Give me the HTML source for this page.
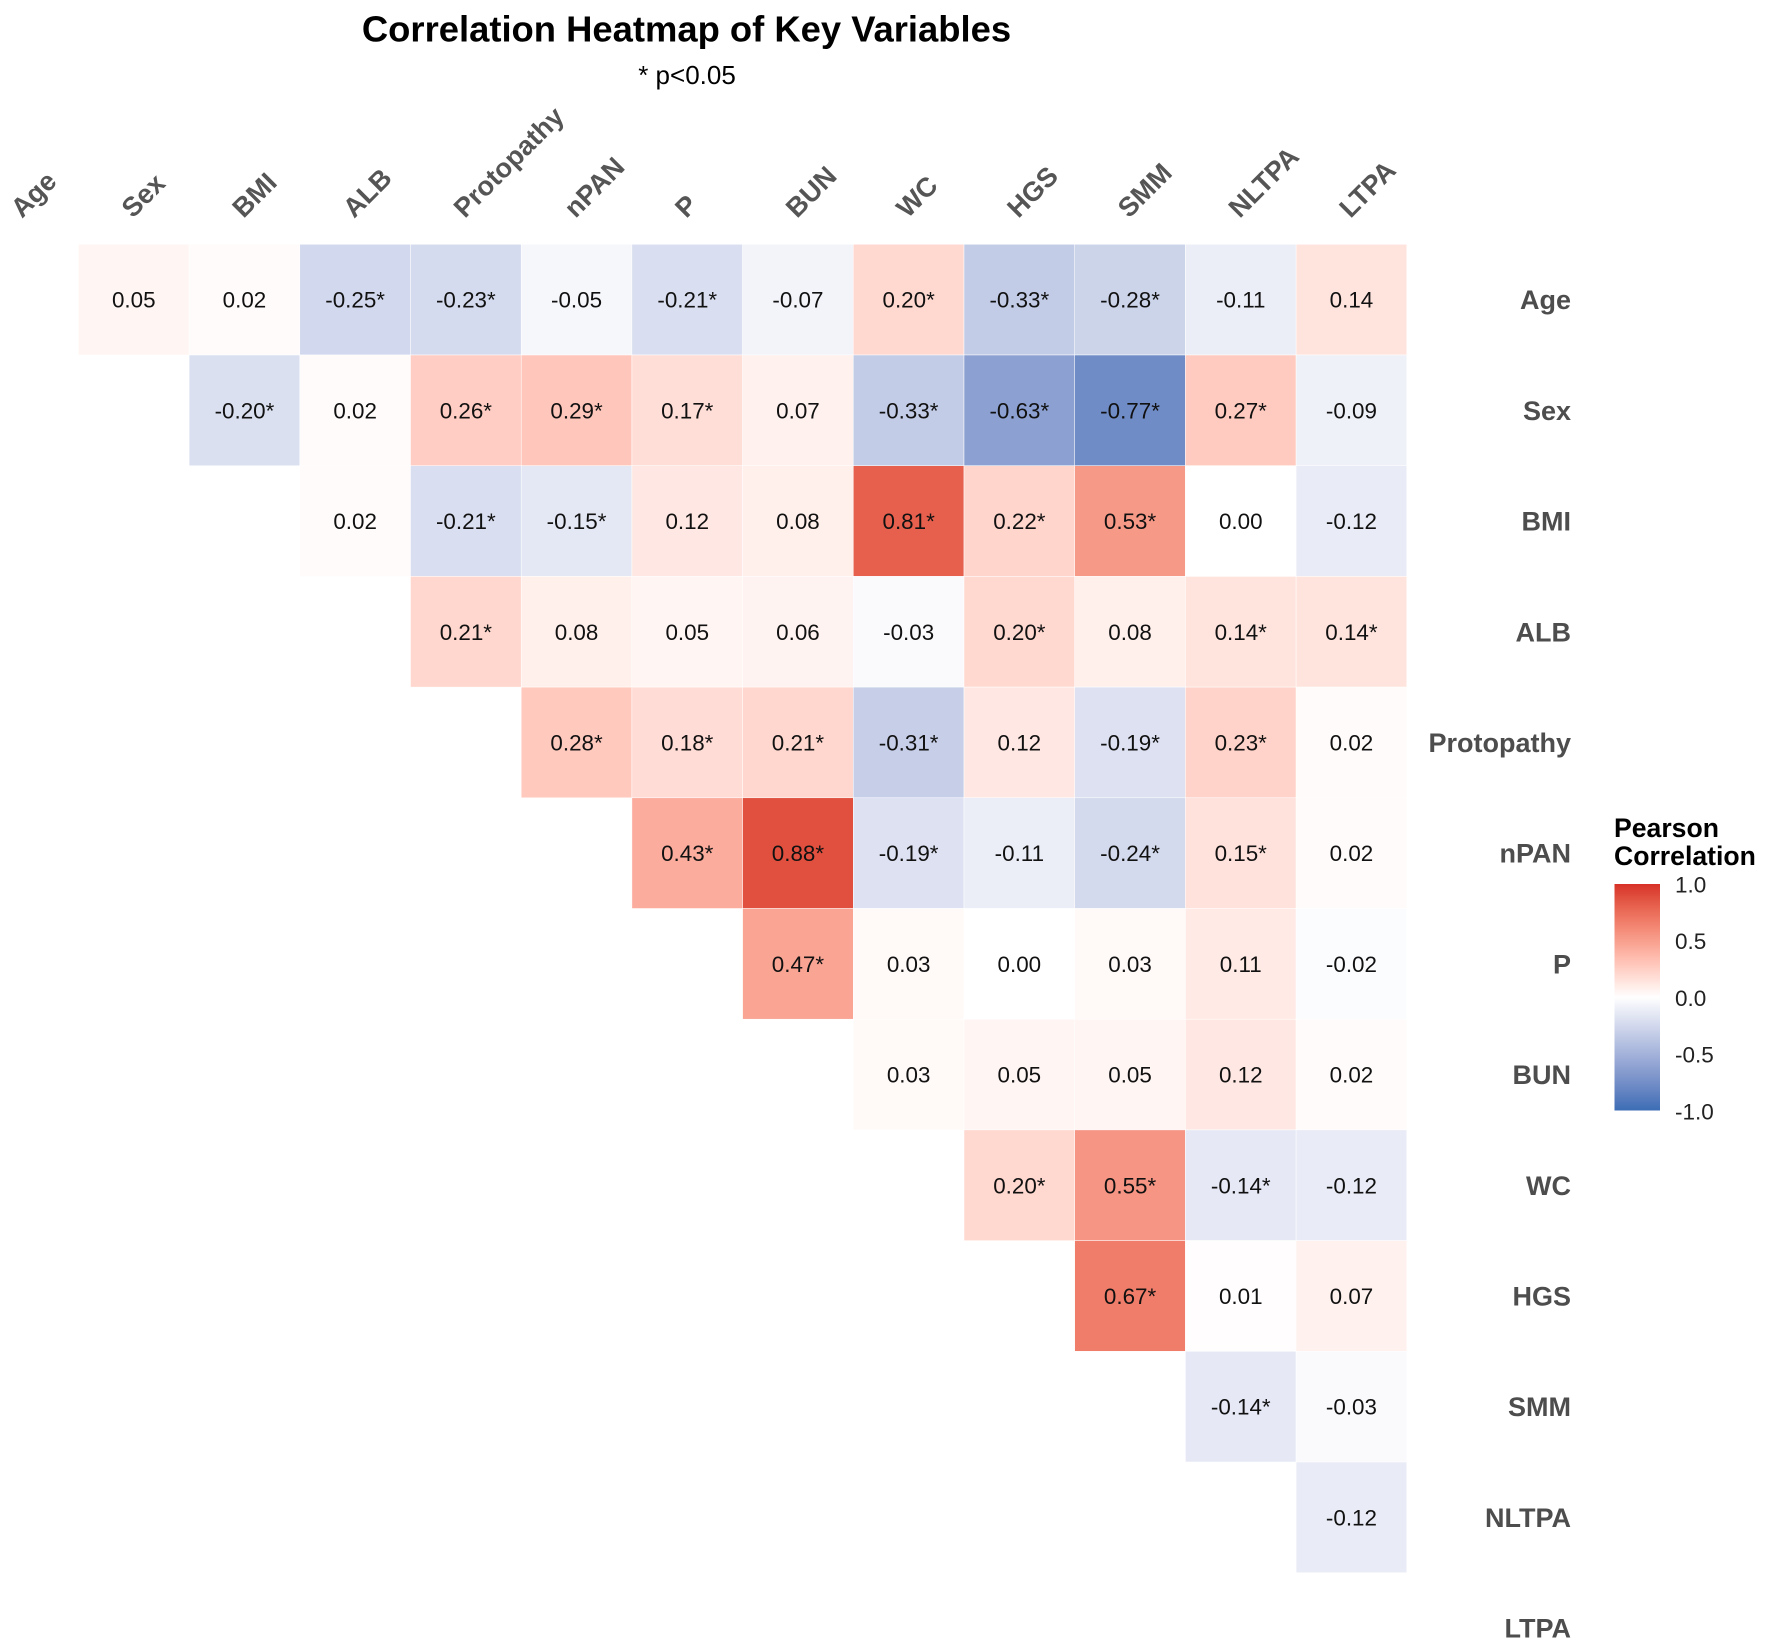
<!DOCTYPE html>
<html lang="en">
<head>
<meta charset="utf-8">
<title>Correlation Heatmap of Key Variables</title>
<style>
html,body{margin:0;padding:0;background:#fff;width:1772px;height:1648px;overflow:hidden}
svg{display:block;font-family:"Liberation Sans",Arial,sans-serif}
</style>
</head>
<body>
<svg id="chart" xmlns="http://www.w3.org/2000/svg" width="1772" height="1648" viewBox="0 0 1772 1648">
<defs><linearGradient id="legend-gradient" x1="0" y1="0" x2="0" y2="1"></linearGradient></defs>
<rect x="0" y="0" width="1772" height="1648" fill="#fff"/>
<text x="686.5" y="41.5" text-anchor="middle" font-size="36.4" font-weight="700" fill="#000">Correlation Heatmap of Key Variables</text>
<text x="687" y="84" text-anchor="middle" font-size="26" fill="#000">* p&lt;0.05</text>
<g id="cells"></g>
<g id="x-labels"></g>
<g id="y-labels"></g>
<g id="legend">
<text x="1614" y="837" font-size="26.6" font-weight="700" fill="#000">Pearson</text>
<text x="1614" y="865" font-size="26.6" font-weight="700" fill="#000">Correlation</text>
<rect x="1614.5" y="884" width="45.5" height="226.5" fill="url(#legend-gradient)"/>
</g>
</svg>
<script>
const variables = ["Age","Sex","BMI","ALB","Protopathy","nPAN","P","BUN","WC","HGS","SMM","NLTPA","LTPA"];
const rowAge = [0.05,0.02,-0.25,-0.23,-0.05,-0.21,-0.07,0.20,-0.33,-0.28,-0.11,0.14];
const rowSex = [-0.20,0.02,0.26,0.29,0.17,0.07,-0.33,-0.63,-0.77,0.27,-0.09];
const rowBMI = [0.02,-0.21,-0.15,0.12,0.08,0.81,0.22,0.53,0.00,-0.12];
const rowALB = [0.21,0.08,0.05,0.06,-0.03,0.20,0.08,0.14,0.14];
const rowProtopathy = [0.28,0.18,0.21,-0.31,0.12,-0.19,0.23,0.02];
const rowNPAN = [0.43,0.88,-0.19,-0.11,-0.24,0.15,0.02];
const rowP = [0.47,0.03,0.00,0.03,0.11,-0.02];
const rowBUN = [0.03,0.05,0.05,0.12,0.02];
const rowWC = [0.20,0.55,-0.14,-0.12];
const rowHGS = [0.67,0.01,0.07];
const rowSMM = [-0.14,-0.03];
const rowNLTPA = [-0.12];
const sigAge = [0,0,1,1,0,1,0,1,1,1,0,0];
const sigSex = [1,0,1,1,1,0,1,1,1,1,0];
const sigBMI = [0,1,1,0,0,1,1,1,0,0];
const sigALB = [1,0,0,0,0,1,0,1,1];
const sigProtopathy = [1,1,1,1,0,1,1,0];
const sigNPAN = [1,1,1,0,1,1,0];
const sigP = [1,0,0,0,0,0];
const sigBUN = [0,0,0,0,0];
const sigWC = [1,1,1,0];
const sigHGS = [1,0,0];
const sigSMM = [1,0];
const sigNLTPA = [0];
const legendTicks = [1.0,0.5,0.0,-0.5,-1.0];

const correlations = [rowAge,rowSex,rowBMI,rowALB,rowProtopathy,rowNPAN,rowP,rowBUN,rowWC,rowHGS,rowSMM,rowNLTPA];
const significance = [sigAge,sigSex,sigBMI,sigALB,sigProtopathy,sigNPAN,sigP,sigBUN,sigWC,sigHGS,sigSMM,sigNLTPA];

const NS = "http://www.w3.org/2000/svg";
const CELL = 110.7;
const PLOT_LEFT = 78.4 - CELL;
const PLOT_TOP = 244.3;
const xScale = function (i) { return PLOT_LEFT + i * CELL; };
const yScale = function (i) { return PLOT_TOP + i * CELL; };
const legendY = function (v) { return 997.9 - v * 113.6; };

function srgbToLin(c){c/=255;return c<=0.04045?c/12.92:Math.pow((c+0.055)/1.055,2.4);}
function linToSrgb(c){c=c<=0.0031308?12.92*c:1.055*Math.pow(c,1/2.4)-0.055;return Math.max(0,Math.min(255,Math.round(c*255)));}
function f(t){return t>0.008856?Math.cbrt(t):7.787*t+16/116;}
function fi(t){return t>0.206893?t*t*t:(t-16/116)/7.787;}
function toLab(rgb){
  const r=srgbToLin(rgb[0]),g=srgbToLin(rgb[1]),b=srgbToLin(rgb[2]);
  const x=(0.4124*r+0.3576*g+0.1805*b)/0.95047,y=0.2126*r+0.7152*g+0.0722*b,z=(0.0193*r+0.1192*g+0.9505*b)/1.08883;
  return [116*f(y)-16,500*(f(x)-f(y)),200*(f(y)-f(z))];
}
function fromLab(l){
  const fy=(l[0]+16)/116,fx=fy+l[1]/500,fz=fy-l[2]/200;
  const x=fi(fx)*0.95047,y=fi(fy),z=fi(fz)*1.08883;
  const r=3.2406*x-1.5372*y-0.4986*z,g=-0.9689*x+1.8758*y+0.0415*z,b=0.0557*x-0.2040*y+1.0570*z;
  return "rgb("+linToSrgb(r)+","+linToSrgb(g)+","+linToSrgb(b)+")";
}
const LOW = toLab([59,109,181]);
const MID = toLab([255,255,255]);
const HIGH = toLab([215,48,39]);
function colorFor(v){
  const t=Math.max(-1,Math.min(1,v));
  const end=t<0?LOW:HIGH,a=Math.abs(t);
  return fromLab([MID[0]+(end[0]-MID[0])*a,MID[1]+(end[1]-MID[1])*a,MID[2]+(end[2]-MID[2])*a]);
}

const cellsG = document.getElementById("cells");
correlations.forEach(function (row, r) {
  row.forEach(function (value, k) {
    const c = r + 1 + k;
    const rect = document.createElementNS(NS, "rect");
    
    
    rect.setAttribute("x", xScale(c));
    rect.setAttribute("y", yScale(r));
    rect.setAttribute("width", CELL);
    rect.setAttribute("height", CELL);
    rect.setAttribute("fill", colorFor(value));
    rect.setAttribute("stroke", "#fff");
    rect.setAttribute("stroke-width", "0.5");
    cellsG.appendChild(rect);
    const label = document.createElementNS(NS, "text");
    
    
    label.setAttribute("x", xScale(c) + CELL / 2);
    label.setAttribute("y", yScale(r) + CELL / 2 + 8);
    label.setAttribute("text-anchor", "middle");
    label.setAttribute("font-size", "22.4");
    label.setAttribute("fill", "#111");
    label.textContent = value.toFixed(2) + (significance[r][k] ? "*" : "");
    cellsG.appendChild(label);
  });
});

const xG = document.getElementById("x-labels");
variables.forEach(function (name, i) {
  const x = xScale(i) + CELL / 2 - 1;
  const y = 219;
  const t = document.createElementNS(NS, "text");
  
  
  t.setAttribute("x", x);
  t.setAttribute("y", y);
  t.setAttribute("transform", "rotate(-45 " + x + " " + y + ")");
  t.setAttribute("font-size", "27");
  t.setAttribute("font-weight", "700");
  t.setAttribute("fill", "#555");
  t.textContent = name;
  xG.appendChild(t);
});

const yG = document.getElementById("y-labels");
variables.forEach(function (name, i) {
  const t = document.createElementNS(NS, "text");
  
  
  t.setAttribute("x", 1571);
  t.setAttribute("y", yScale(i) + CELL / 2 + 9.5);
  t.setAttribute("text-anchor", "end");
  t.setAttribute("font-size", "27");
  t.setAttribute("font-weight", "700");
  t.setAttribute("fill", "#4d4d4d");
  t.textContent = name;
  yG.appendChild(t);
});

const grad = document.getElementById("legend-gradient");
for (let s = 0; s <= 40; s++) {
  const stop = document.createElementNS(NS, "stop");
  stop.setAttribute("offset", (s / 40));
  stop.setAttribute("stop-color", colorFor(1 - s / 20));
  grad.appendChild(stop);
}
const legendG = document.getElementById("legend");
legendTicks.forEach(function (v) {
  const t = document.createElementNS(NS, "text");
  
  
  t.setAttribute("x", 1675);
  t.setAttribute("y", legendY(v) + 8);
  t.setAttribute("font-size", "22.5");
  t.setAttribute("fill", "#222");
  t.textContent = v.toFixed(1);
  legendG.appendChild(t);
});
</script>
</body>
</html>
